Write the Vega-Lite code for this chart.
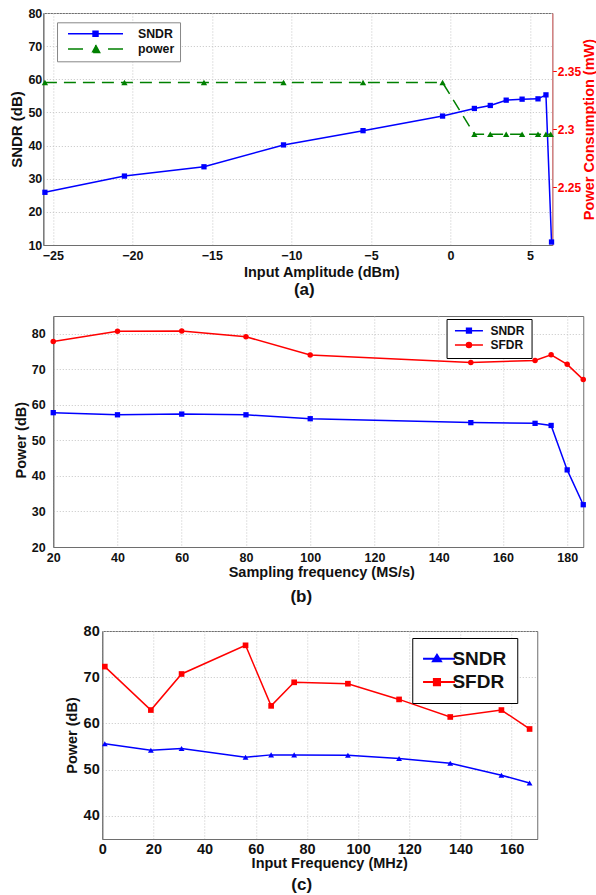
{
  "$schema": "https://vega.github.io/schema/vega-lite/v6.json",
  "background": "white",
  "padding": {"left": 9, "top": 6, "right": 0, "bottom": 0},
  "spacing": 16,
  "center": true,
  "config": {
    "font": "Liberation Sans",
    "view": {"stroke": "#6e6e6e", "strokeWidth": 1},
    "axis": {"labelFont": "Liberation Sans", "labelFontWeight": "bold", "labelColor": "#111111", "titleFont": "Liberation Sans", "titleFontWeight": "bold", "titleColor": "#111111", "gridColor": "#c4c4c4", "gridDash": [1, 2], "gridWidth": 1, "domainColor": "#6e6e6e", "ticks": false, "labelOverlap": false},
    "legend": {"labelFont": "Liberation Sans", "labelFontWeight": "bold", "labelColor": "#111111", "fillColor": "white"},
    "title": {"font": "Liberation Sans", "fontWeight": "bold", "fontSize": 17, "color": "#111111", "orient": "bottom", "anchor": "middle"}
  },
  "resolve": {"scale": {"color": "independent"}, "legend": {"color": "independent"}},
  "vconcat": [
    {
      "width": 509,
      "height": 232,
      "title": {"text": "(a)", "dx": 6.5, "offset": 3},
      "encoding": {
        "x": {"field": "x", "type": "quantitative", "scale": {"domain": [-25.6, 6.4], "nice": false, "zero": false},
          "axis": {"values": [-25, -20, -15, -10, -5, 0, 5], "title": "Input Amplitude (dBm)", "labelFontSize": 12.5, "titleFontSize": 14.5, "labelPadding": 4, "titlePadding": 4, "titleX": 278, "labelFlush": false}},
        "color": {"field": "s", "type": "nominal", "scale": {"domain": ["SNDR", "power"], "range": ["#0000ff", "#008000"]},
          "legend": {"title": null, "orient": "none", "legendX": 13.7, "legendY": 9.3, "padding": 5, "strokeColor": "#888888", "labelFontSize": 12.3, "symbolSize": 3025, "clipHeight": 13, "rowPadding": 2.3, "symbolOffset": 5, "labelOffset": 14, "symbolStrokeWidth": 1.5,
            "encode": {"symbols": {"update": {
              "shape": {"signal": "datum.value === 'SNDR' ? 'M-1,0H1M-0.09,-0.09H0.09V0.09H-0.09Z' : 'M-1,0H1M0,-0.15L0.15,0.12H-0.15Z'"},
              "fill": {"signal": "datum.value === 'SNDR' ? '#0000ff' : '#008000'"},
              "stroke": {"signal": "datum.value === 'SNDR' ? '#0000ff' : '#008000'"},
              "strokeDash": {"signal": "datum.value === 'SNDR' ? [] : [15, 25]"}
            }}}}}
      },
      "layer": [
        {
          "data": {"values": [
            {"x": -25.5, "v": 25.9, "s": "SNDR"},
            {"x": -20.5, "v": 30.8, "s": "SNDR"},
            {"x": -15.5, "v": 33.6, "s": "SNDR"},
            {"x": -10.5, "v": 40.2, "s": "SNDR"},
            {"x": -5.5, "v": 44.5, "s": "SNDR"},
            {"x": -0.5, "v": 48.9, "s": "SNDR"},
            {"x": 1.5, "v": 51.2, "s": "SNDR"},
            {"x": 2.5, "v": 52.1, "s": "SNDR"},
            {"x": 3.5, "v": 53.7, "s": "SNDR"},
            {"x": 4.5, "v": 54.0, "s": "SNDR"},
            {"x": 5.5, "v": 54.1, "s": "SNDR"},
            {"x": 6.0, "v": 55.3, "s": "SNDR"},
            {"x": 6.35, "v": 10.9, "s": "SNDR"}
          ]},
          "mark": {"type": "line", "strokeWidth": 1.5, "point": {"shape": "square", "filled": true, "size": 28, "opacity": 1}},
          "encoding": {
            "y": {"field": "v", "type": "quantitative", "scale": {"domain": [10, 80], "nice": false, "zero": false},
              "axis": {"values": [10, 20, 30, 40, 50, 60, 70, 80], "title": "SNDR (dB)", "labelFontSize": 12.5, "titleFontSize": 15, "labelPadding": 1.5, "titlePadding": 3}}
          }
        },
        {
          "data": {"values": [
            {"x": -25.5, "v": 2.34, "s": "power"},
            {"x": -20.5, "v": 2.34, "s": "power"},
            {"x": -15.5, "v": 2.34, "s": "power"},
            {"x": -10.5, "v": 2.34, "s": "power"},
            {"x": -5.5, "v": 2.34, "s": "power"},
            {"x": -0.5, "v": 2.34, "s": "power"},
            {"x": 1.5, "v": 2.2955, "s": "power"},
            {"x": 2.5, "v": 2.2955, "s": "power"},
            {"x": 3.5, "v": 2.2955, "s": "power"},
            {"x": 4.5, "v": 2.2955, "s": "power"},
            {"x": 5.5, "v": 2.2955, "s": "power"},
            {"x": 6.0, "v": 2.2955, "s": "power"},
            {"x": 6.3, "v": 2.2955, "s": "power"}
          ]},
          "mark": {"type": "line", "strokeWidth": 1.5, "strokeDash": [12, 7], "point": {"shape": "triangle-up", "filled": true, "size": 40, "opacity": 1}},
          "encoding": {
            "y": {"field": "v", "type": "quantitative", "scale": {"domain": [2.2, 2.4], "nice": false, "zero": false},
              "axis": {"orient": "right", "values": [2.25, 2.3, 2.35], "format": "~g", "grid": false, "title": "Power Consumption (mW)", "titleAngle": 270, "titleBaseline": "top", "labelFontSize": 12, "titleFontSize": 14.5, "labelColor": "#ff0000", "titleColor": "#ff0000", "domainColor": "#ee7777", "ticks": true, "tickSize": 4, "tickColor": "#ff0000", "labelPadding": 1, "titlePadding": 2}}
          }
        }
      ],
      "resolve": {"scale": {"y": "independent"}}
    },
    {
      "width": 530,
      "height": 231,
      "title": {"text": "(b)", "dx": -17, "offset": 10},
      "data": {"values": [
        {"f": 20, "v": 57.8, "s": "SNDR"},
        {"f": 40, "v": 57.2, "s": "SNDR"},
        {"f": 60, "v": 57.4, "s": "SNDR"},
        {"f": 80, "v": 57.2, "s": "SNDR"},
        {"f": 100, "v": 56.1, "s": "SNDR"},
        {"f": 150, "v": 55.0, "s": "SNDR"},
        {"f": 170, "v": 54.8, "s": "SNDR"},
        {"f": 175, "v": 54.2, "s": "SNDR"},
        {"f": 180, "v": 41.7, "s": "SNDR"},
        {"f": 185, "v": 31.9, "s": "SNDR"},
        {"f": 20, "v": 77.85, "s": "SFDR"},
        {"f": 40, "v": 80.7, "s": "SFDR"},
        {"f": 60, "v": 80.8, "s": "SFDR"},
        {"f": 80, "v": 79.15, "s": "SFDR"},
        {"f": 100, "v": 74.0, "s": "SFDR"},
        {"f": 150, "v": 71.9, "s": "SFDR"},
        {"f": 170, "v": 72.5, "s": "SFDR"},
        {"f": 175, "v": 74.1, "s": "SFDR"},
        {"f": 180, "v": 71.4, "s": "SFDR"},
        {"f": 185, "v": 67.1, "s": "SFDR"}
      ]},
      "encoding": {
        "x": {"field": "f", "type": "quantitative", "scale": {"domain": [20, 185], "nice": false, "zero": false},
          "axis": {"values": [20, 40, 60, 80, 100, 120, 140, 160, 180], "title": "Sampling frequency (MS/s)", "labelFontSize": 12.5, "titleFontSize": 14.5, "labelPadding": 4, "titlePadding": 2, "titleX": 268, "labelFlush": false}},
        "y": {"field": "v", "type": "quantitative", "scale": {"domain": [20, 85], "nice": false, "zero": false},
          "axis": {"values": [20, 30, 40, 50, 60, 70, 80], "title": "Power (dB)", "labelFontSize": 12.5, "titleFontSize": 14.5, "labelPadding": 8, "titlePadding": 3, "titleY": 123.7}},
        "color": {"field": "s", "type": "nominal", "scale": {"domain": ["SNDR", "SFDR"], "range": ["#0000ff", "#ff0000"]},
          "legend": {"title": null, "orient": "none", "legendX": 393.3, "legendY": 3, "padding": 6.2, "strokeColor": "#000000", "labelFontSize": 12, "symbolSize": 784, "clipHeight": 11, "rowPadding": 1.4, "symbolOffset": 1.2, "labelOffset": 6.5, "symbolStrokeWidth": 1.5,
            "encode": {"symbols": {"update": {
              "shape": {"signal": "datum.value === 'SNDR' ? 'M-1,0H1M-0.17,-0.17H0.17V0.17H-0.17Z' : 'M-1,0H1M0.18,0A0.18,0.18,0,1,1,-0.18,0A0.18,0.18,0,1,1,0.18,0Z'"},
              "fill": {"signal": "datum.value === 'SNDR' ? '#0000ff' : '#ff0000'"},
              "stroke": {"signal": "datum.value === 'SNDR' ? '#0000ff' : '#ff0000'"}
            }}}}}
      },
      "layer": [
        {"mark": {"type": "line", "strokeWidth": 1.5}},
        {"transform": [{"filter": "datum.s === 'SNDR'"}], "mark": {"type": "point", "shape": "square", "filled": true, "size": 28, "opacity": 1}},
        {"transform": [{"filter": "datum.s === 'SFDR'"}], "mark": {"type": "point", "shape": "circle", "filled": true, "size": 30, "opacity": 1}}
      ]
    },
    {
      "width": 435,
      "height": 208,
      "title": {"text": "(c)", "dx": -18, "offset": 7},
      "data": {"values": [
        {"f": 1, "v": 55.6, "s": "SNDR"},
        {"f": 19, "v": 54.2, "s": "SNDR"},
        {"f": 31, "v": 54.6, "s": "SNDR"},
        {"f": 56, "v": 52.7, "s": "SNDR"},
        {"f": 66, "v": 53.2, "s": "SNDR"},
        {"f": 75, "v": 53.2, "s": "SNDR"},
        {"f": 96, "v": 53.1, "s": "SNDR"},
        {"f": 116, "v": 52.4, "s": "SNDR"},
        {"f": 136, "v": 51.4, "s": "SNDR"},
        {"f": 156, "v": 48.8, "s": "SNDR"},
        {"f": 167, "v": 47.1, "s": "SNDR"},
        {"f": 1, "v": 72.3, "s": "SFDR"},
        {"f": 19, "v": 62.9, "s": "SFDR"},
        {"f": 31, "v": 70.7, "s": "SFDR"},
        {"f": 56, "v": 76.9, "s": "SFDR"},
        {"f": 66, "v": 63.8, "s": "SFDR"},
        {"f": 75, "v": 68.9, "s": "SFDR"},
        {"f": 96, "v": 68.6, "s": "SFDR"},
        {"f": 116, "v": 65.2, "s": "SFDR"},
        {"f": 136, "v": 61.4, "s": "SFDR"},
        {"f": 156, "v": 62.9, "s": "SFDR"},
        {"f": 167, "v": 58.8, "s": "SFDR"}
      ]},
      "encoding": {
        "x": {"field": "f", "type": "quantitative", "scale": {"domain": [0, 170], "nice": false, "zero": false},
          "axis": {"values": [0, 20, 40, 60, 80, 100, 120, 140, 160], "title": "Input Frequency (MHz)", "labelFontSize": 14.5, "titleFontSize": 14.5, "labelPadding": 3, "titlePadding": 1, "titleX": 227, "labelFlush": false}},
        "y": {"field": "v", "type": "quantitative", "scale": {"domain": [35, 80], "nice": false, "zero": false},
          "axis": {"values": [40, 50, 60, 70, 80], "title": "Power (dB)", "labelFontSize": 14.5, "titleFontSize": 14.5, "labelPadding": 3, "titlePadding": 4}},
        "color": {"field": "s", "type": "nominal", "scale": {"domain": ["SNDR", "SFDR"], "range": ["#0000ff", "#ff0000"]},
          "legend": {"title": null, "orient": "none", "legendX": 310, "legendY": 7, "padding": 10.8, "strokeColor": "#000000", "labelFontSize": 19, "symbolSize": 1296, "clipHeight": 20, "rowPadding": 3.3, "symbolOffset": -5.1, "labelOffset": -3.5, "symbolStrokeWidth": 2,
            "encode": {"symbols": {"update": {
              "shape": {"signal": "datum.value === 'SNDR' ? 'M-1,0H1M0,-0.22L0.22,0.14H-0.22Z' : 'M-1,0H1M-0.17,-0.17H0.17V0.17H-0.17Z'"},
              "fill": {"signal": "datum.value === 'SNDR' ? '#2211dd' : '#ff0000'"},
              "stroke": {"signal": "datum.value === 'SNDR' ? '#2211dd' : '#ff0000'"}
            }}}}}
      },
      "layer": [
        {"mark": {"type": "line", "strokeWidth": 1.5}},
        {"transform": [{"filter": "datum.s === 'SNDR'"}], "mark": {"type": "point", "shape": "triangle-up", "filled": true, "size": 34, "opacity": 1}},
        {"transform": [{"filter": "datum.s === 'SFDR'"}], "mark": {"type": "point", "shape": "square", "filled": true, "size": 32, "opacity": 1}}
      ]
    }
  ]
}
